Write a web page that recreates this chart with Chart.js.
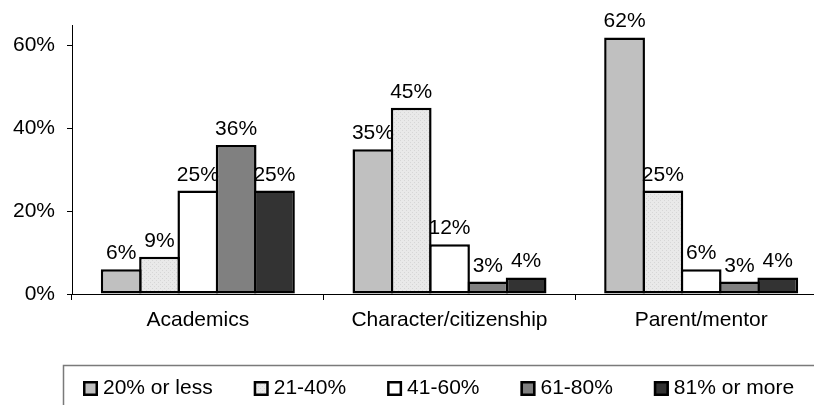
<!DOCTYPE html>
<html>
<head>
<meta charset="utf-8">
<script src="https://cdn.jsdelivr.net/npm/chart.js@4/dist/chart.umd.min.js"></script>
<style>
    html, body { margin: 0; padding: 0; background: #fff; overflow: hidden; }
    #chart { display: block; }
</style>
</head>
<body>
<canvas id="chart" width="830" height="405"></canvas>
<script>
// Chart data
const categories = ['Academics', 'Character/citizenship', 'Parent/mentor'];
const seriesNames = ['20% or less', '21-40%', '41-60%', '61-80%', '81% or more'];
const lessThan20 = [6, 35, 62];
const from21to40 = [9, 45, 25];
const from41to60 = [25, 12, 6];
const from61to80 = [36, 3, 3];
const over81 = [25, 4, 4];
const yTicks = [0, 20, 40, 60];

const FONT = '"Liberation Sans", Arial, sans-serif';

// Light dotted fill used by the 21-40% series
function makeDotPattern() {
    const c = document.createElement('canvas');
    c.width = 4;
    c.height = 4;
    const g = c.getContext('2d');
    g.fillStyle = '#e9e9e9';
    g.fillRect(0, 0, 4, 4);
    g.fillStyle = '#d6d6d6';
    g.fillRect(0, 0, 1, 1);
    g.fillRect(2, 2, 1, 1);
    return g.createPattern(c, 'repeat');
}

const fills = ['#c0c0c0', makeDotPattern(), '#ffffff', '#808080', '#333333'];
const values = [lessThan20, from21to40, from41to60, from61to80, over81];

// Value labels above each bar
const valueLabels = {
    id: 'valueLabels',
    afterDatasetsDraw(chart) {
        const ctx = chart.ctx;
        ctx.save();
        ctx.font = '21px ' + FONT;
        ctx.fillStyle = '#000';
        ctx.textAlign = 'center';
        ctx.textBaseline = 'alphabetic';
        chart.data.datasets.forEach((ds, i) => {
            chart.getDatasetMeta(i).data.forEach((bar, j) => {
                ctx.fillText(ds.data[j] + '%', bar.x, bar.y - 10);
            });
        });
        ctx.restore();
    }
};

// Boxed legend along the bottom
const boxLegend = {
    id: 'boxLegend',
    afterDraw(chart) {
        const ctx = chart.ctx;
        ctx.save();
        ctx.strokeStyle = '#7a7a7a';
        ctx.lineWidth = 1.5;
        ctx.strokeRect(63.5, 365.5, 900, 100);
        ctx.font = '21px ' + FONT;
        ctx.textBaseline = 'middle';
        ctx.textAlign = 'left';
        let x = 83;
        const y = 388;
        chart.data.datasets.forEach((ds) => {
            ctx.fillStyle = ds.backgroundColor;
            ctx.fillRect(x, y - 7, 15, 15);
            ctx.strokeStyle = '#000';
            ctx.lineWidth = 2.5;
            ctx.strokeRect(x + 1.25, y - 5.75, 12.5, 12.5);
            ctx.fillStyle = '#000';
            ctx.fillText(ds.label, x + 20, y);
            x += 20 + ctx.measureText(ds.label).width + 41;
        });
        ctx.restore();
    }
};

new Chart(document.getElementById('chart').getContext('2d'), {
    type: 'bar',
    data: {
        labels: categories,
        datasets: seriesNames.map((name, i) => ({
            label: name,
            data: values[i],
            backgroundColor: fills[i],
            borderColor: '#000',
            borderWidth: 2.5,
            borderSkipped: false,
            inflateAmount: 0,
            categoryPercentage: 0.761,
            barPercentage: 1.065
        }))
    },
    options: {
        responsive: false,
        animation: false,
        layout: { padding: { top: 25, right: 3, bottom: 0, left: 0 } },
        plugins: {
            legend: { display: false },
            tooltip: { enabled: false }
        },
        scales: {
            x: {
                afterFit: (scale) => { scale.height = 111; },
                grid: {
                    offset: true,
                    drawOnChartArea: false,
                    drawTicks: true,
                    tickLength: 6,
                    color: '#000'
                },
                border: { color: '#000', width: 1 },
                ticks: {
                    color: '#000',
                    font: { family: FONT, size: 21 },
                    padding: 8,
                    maxRotation: 0
                }
            },
            y: {
                min: 0,
                max: 65,
                afterFit: (scale) => { scale.width = 72; },
                afterBuildTicks: (scale) => {
                    scale.ticks = yTicks.map(v => ({ value: v }));
                },
                grid: {
                    drawOnChartArea: false,
                    drawTicks: true,
                    tickLength: 5,
                    color: '#000'
                },
                border: { color: '#000', width: 1 },
                ticks: {
                    color: '#000',
                    font: { family: FONT, size: 21 },
                    padding: 12,
                    callback: (v) => v + '%'
                }
            }
        }
    },
    plugins: [valueLabels, boxLegend]
});
</script>
</body>
</html>
